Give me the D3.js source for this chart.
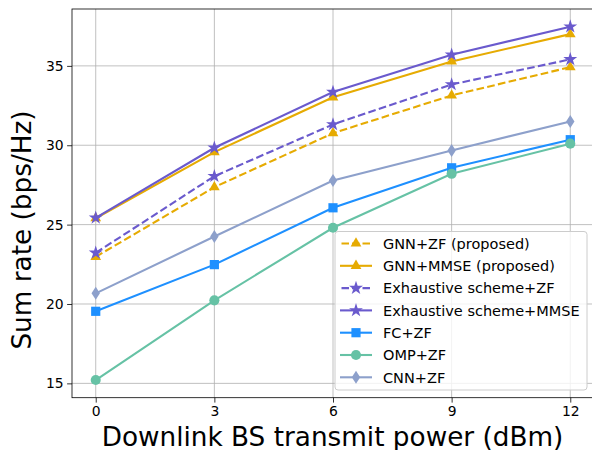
<!DOCTYPE html>
<html>
<head>
<meta charset="utf-8">
<script src="https://cdn.jsdelivr.net/npm/d3@7"></script>
<style>
  body { margin: 0; background: #fff; }
  svg { display: block; font-family: "DejaVu Sans", sans-serif; }
</style>
</head>
<body>
<svg id="chart" width="592" height="450"></svg>
<script>
// power levels (dBm)
const powers = [0, 3, 6, 9, 12];
const xTicks = [0, 3, 6, 9, 12];
const yTicks = [15, 20, 25, 30, 35];

const gnnZF = [22.97, 27.36, 30.76, 33.14, 34.92];
const gnnMMSE = [25.40, 29.57, 33.02, 35.28, 37.00];
const exhZF = [23.22, 28.05, 31.31, 33.83, 35.41];
const exhMMSE = [25.43, 29.84, 33.35, 35.70, 37.47];
const fcZF = [19.54, 22.48, 26.06, 28.58, 30.35];
const ompZF = [15.21, 20.23, 24.80, 28.20, 30.10];
const cnnZF = [20.67, 24.25, 27.78, 29.67, 31.50];

const seriesNames = ['GNN+ZF (proposed)', 'GNN+MMSE (proposed)', 'Exhaustive scheme+ZF',
    'Exhaustive scheme+MMSE', 'FC+ZF', 'OMP+ZF', 'CNN+ZF'];

const orange = '#e6ab02', purple = '#6a5acd';
const series = [
    { name: seriesNames[0], values: gnnZF, color: orange, dash: '7.7,3.3', marker: 'tri' },
    { name: seriesNames[1], values: gnnMMSE, color: orange, dash: null, marker: 'tri' },
    { name: seriesNames[2], values: exhZF, color: purple, dash: '7.7,3.3', marker: 'star' },
    { name: seriesNames[3], values: exhMMSE, color: purple, dash: null, marker: 'star' },
    { name: seriesNames[4], values: fcZF, color: '#1e90ff', dash: null, marker: 'square' },
    { name: seriesNames[5], values: ompZF, color: '#66c2a5', dash: null, marker: 'circle' },
    { name: seriesNames[6], values: cnnZF, color: '#8da0cb', dash: null, marker: 'diamond' }
];

const svg = d3.select('#chart');
const margin = { top: 9, left: 72, right: 594, bottom: 397.7 };

const allVals = series.flatMap(s => s.values);
const yMin = d3.min(allVals), yMax = d3.max(allVals);
const yPad = (yMax - yMin) * 0.05;
const xScale = d3.scaleLinear().domain([-0.6, 12.6]).range([margin.left, margin.right]);
const yScale = d3.scaleLinear().domain([yMin - yPad, yMax + yPad]).range([margin.bottom, margin.top]);

// grid
const grid = svg.append('g');
grid.selectAll('.gx').data(xTicks).enter().append('line')
    .attr('x1', d => xScale(d)).attr('x2', d => xScale(d))
    .attr('y1', margin.top).attr('y2', margin.bottom)
    .attr('stroke', '#b0b0b0').attr('stroke-width', 0.8);
grid.selectAll('.gy').data(yTicks).enter().append('line')
    .attr('x1', margin.left).attr('x2', margin.right)
    .attr('y1', d => yScale(d)).attr('y2', d => yScale(d))
    .attr('stroke', '#b0b0b0').attr('stroke-width', 0.8);

// axes
const xAxis = d3.axisBottom(xScale).tickValues(xTicks).tickSizeOuter(0).tickSize(4.9).tickPadding(3.5);
const yAxis = d3.axisLeft(yScale).tickValues(yTicks).tickSizeOuter(0).tickSize(4.9).tickPadding(3.5);

svg.append('g').attr('transform', 'translate(0,' + margin.bottom + ')')
    .call(xAxis)
    .call(g => {
        g.select('.domain').remove();
        g.selectAll('.tick line').attr('stroke', '#000').attr('stroke-width', 0.8);
        g.selectAll('.tick text').attr('font-size', 13.9).attr('fill', '#000').attr('font-family', 'DejaVu Sans');
    });
svg.append('g').attr('transform', 'translate(' + margin.left + ',0)')
    .call(yAxis)
    .call(g => {
        g.select('.domain').remove();
        g.selectAll('.tick line').attr('stroke', '#000').attr('stroke-width', 0.8);
        g.selectAll('.tick text').attr('font-size', 13.9).attr('fill', '#000').attr('font-family', 'DejaVu Sans');
    });

// spines
svg.append('rect')
    .attr('x', margin.left).attr('y', margin.top)
    .attr('width', margin.right - margin.left).attr('height', margin.bottom - margin.top)
    .attr('fill', 'none').attr('stroke', '#000').attr('stroke-width', 0.8);

// markers
function markerPath(type) {
    if (type === 'tri') return d3.symbol(d3.symbolTriangle, 50)();
    if (type === 'star') return d3.symbol(d3.symbolStar, 60)();
    if (type === 'square') return 'M-4.6,-4.6H4.6V4.6H-4.6Z';
    if (type === 'circle') return d3.symbol(d3.symbolCircle, 80)();
    // thin diamond
    return 'M0,-6.5L4.2,0L0,6.5L-4.2,0Z';
}

const line = d3.line().x((d, i) => xScale(powers[i])).y(d => yScale(d));

series.forEach(s => {
    const g = svg.append('g');
    g.append('path').datum(s.values)
        .attr('d', line)
        .attr('fill', 'none')
        .attr('stroke', s.color)
        .attr('stroke-width', 2.1)
        .attr('stroke-dasharray', s.dash);
    g.selectAll('.m').data(s.values).enter().append('path')
        .attr('d', markerPath(s.marker))
        .attr('transform', (d, i) => 'translate(' + xScale(powers[i]) + ',' + yScale(d) + ')')
        .attr('fill', s.color);
});

// legend
const leg = svg.append('g');
leg.append('rect')
    .attr('x', 335).attr('y', 231.5).attr('width', 252).attr('height', 158.5)
    .attr('rx', 3).attr('fill', '#fff').attr('fill-opacity', 0.8)
    .attr('stroke', '#cccccc').attr('stroke-width', 1);

series.forEach((s, i) => {
    const y = 243.5 + i * 22.3;
    leg.append('line')
        .attr('x1', 340).attr('x2', 372).attr('y1', y).attr('y2', y)
        .attr('stroke', s.color).attr('stroke-width', 2.1)
        .attr('stroke-dasharray', s.dash ? '7.5,3' : null)
        .attr('stroke-dashoffset', s.dash ? -1.5 : null);
    leg.append('path')
        .attr('d', markerPath(s.marker))
        .attr('transform', 'translate(356,' + y + ')')
        .attr('fill', s.color);
    leg.append('text')
        .attr('x', 383).attr('y', y).attr('dy', '0.36em')
        .attr('font-size', 14.5).attr('fill', '#000')
        .text(s.name);
});

// axis labels
svg.append('text')
    .attr('x', 332.5).attr('y', 445.5)
    .attr('text-anchor', 'middle').attr('font-size', 26.3).attr('fill', '#000')
    .text('Downlink BS transmit power (dBm)');
svg.append('text')
    .attr('transform', 'translate(31,' + 230 + ') rotate(-90)')
    .attr('text-anchor', 'middle').attr('font-size', 26.3).attr('fill', '#000')
    .text('Sum rate (bps/Hz)');
</script>
</body>
</html>
